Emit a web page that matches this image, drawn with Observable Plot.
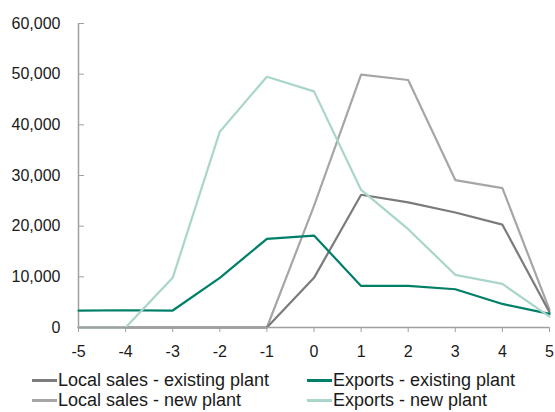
<!DOCTYPE html>
<html>
<head>
<meta charset="utf-8">
<script src="https://cdn.jsdelivr.net/npm/d3@7"></script>
<script src="https://cdn.jsdelivr.net/npm/@observablehq/plot@0.6"></script>
<style>
  html, body { margin: 0; padding: 0; background: #fff; }
  body { width: 555px; height: 412px; overflow: hidden; font-family: "Liberation Sans", Arial, sans-serif; color: #1a1a1a; }
  #chart svg { display: block; }
  .legend { position: relative; height: 47px; font-size: 18px; }
  .item { position: absolute; display: flex; align-items: center; height: 20px; line-height: 20px; white-space: nowrap; }
  .sw { display: inline-block; width: 25px; height: 0; border-top: 3px solid; margin-right: 1px; }
</style>
</head>
<body>
<div id="chart"></div>
<div class="legend" id="legend"></div>
<script>
const years = [-5, -4, -3, -2, -1, 0, 1, 2, 3, 4, 5];
const localExisting = [0, 0, 0, 0, 0, 9800, 26200, 24700, 22700, 20300, 3000];
const exportsExisting = [3350, 3400, 3350, 9800, 17500, 18150, 8200, 8200, 7550, 4650, 2700];
const localNew = [0, 0, 0, 0, 0, 24000, 49900, 48850, 29100, 27500, 3500];
const exportsNew = [0, 0, 9800, 38650, 49500, 46600, 27150, 19400, 10400, 8600, 2150];
const seriesNames = ["Local sales - existing plant", "Exports - existing plant", "Local sales - new plant", "Exports - new plant"];
const seriesColors = ["#7b7b7b", "#007f68", "#a6a6a6", "#a9d5cb"];
const yTicks = [0, 10000, 20000, 30000, 40000, 50000, 60000];

const seriesValues = [localExisting, exportsExisting, localNew, exportsNew];
const rows = [];
seriesValues.forEach((vals, i) => vals.forEach((v, j) => rows.push({series: seriesNames[i], x: years[j], y: v})));
const drawOrder = [2, 0, 1, 3];

const plot = Plot.plot({
  width: 555,
  height: 365,
  marginLeft: 78,
  marginRight: 6,
  marginTop: 23,
  marginBottom: 38,
  style: {fontFamily: "'Liberation Sans', Arial, sans-serif", fontSize: "16px", color: "#1a1a1a", background: "#fff"},
  x: {domain: [-5, 5]},
  y: {domain: [0, 60000]},
  color: {domain: seriesNames, range: seriesColors},
  marks: [
    Plot.ruleX([-5], {stroke: "#a0a0a0", strokeWidth: 1.5}),
    Plot.axisY({ticks: yTicks, tickFormat: d3.format(","), tickSize: -6, tickPadding: 24, stroke: "#a0a0a0", fill: "#1a1a1a", strokeOpacity: 1, label: null}),
    ...drawOrder.map(i => Plot.line(rows.filter(r => r.series === seriesNames[i]), {x: "x", y: "y", stroke: "series", strokeWidth: 2.2, strokeLinejoin: "miter"})),
    Plot.ruleY([0], {stroke: "#a0a0a0", strokeWidth: 1.5}),
    Plot.axisX({ticks: years, tickFormat: d => String(d), tickSize: 5, tickPadding: 13, stroke: "#a0a0a0", fill: "#1a1a1a", strokeOpacity: 1, label: null})
  ]
});
document.getElementById("chart").appendChild(plot);

const legend = document.getElementById("legend");
const pos = [[32, 5], [307, 5], [32, 25], [307, 25]];
seriesNames.forEach((name, i) => {
  const it = document.createElement("div");
  it.className = "item";
  it.style.left = pos[i][0] + "px";
  it.style.top = pos[i][1] + "px";
  const sw = document.createElement("span");
  sw.className = "sw";
  sw.style.borderColor = seriesColors[i];
  it.appendChild(sw);
  it.appendChild(document.createTextNode(name));
  legend.appendChild(it);
});
</script>
</body>
</html>
